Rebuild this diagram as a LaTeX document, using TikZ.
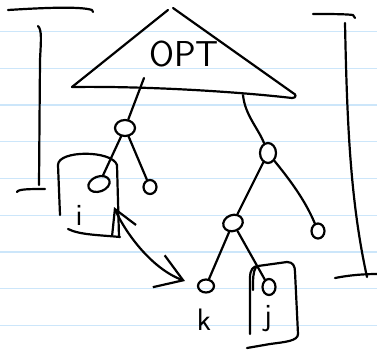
\documentclass[tikz,border=0pt]{standalone}
\usepackage{fontspec}
\usetikzlibrary{shapes.geometric,arrows.meta}
\tikzset{
  rule/.style={draw={rgb,255:red,204;green,230;blue,250},line width=1.3pt},
  ink/.style={draw=black,line width=2.2pt,line cap=round,line join=round},
  nd/.style={ellipse,ink,inner sep=0pt},
  lbl/.style={inner sep=0pt,font=\sffamily\fontsize{31}{31}\selectfont},
}
\begin{document}
\begin{tikzpicture}[x=1pt,y=-1pt]
\fill[white] (0,0) rectangle (377,351);
\useasboundingbox (0,0) rectangle (377,351);

% ruled paper
\foreach \yy in {31.7,68.4,105.1,141.8,178.5,215.2,251.9,288.6,325.3}
  \draw[rule] (0,\yy) -- (377,\yy);

% left bracket
\draw[ink] (8,10) .. controls (40,8) and (80,6) .. (92,10) -- (93,12);
\draw[ink] (38,26) .. controls (42,30) and (41,40) .. (40,60) -- (39,185);
\draw[ink] (17,192) .. controls (18,189) and (30,189) .. (45,189);

% right bracket
\draw[ink] (313,14) .. controls (330,14) and (345,14) .. (353,15) -- (355,18);
\draw[ink] (345,23) .. controls (347,120) and (350,200) .. (367,277);
\draw[ink] (335,278) .. controls (350,275) and (365,274) .. (377,274);

% the OPT triangle
\draw[ink] (72,87) -- (168,10);
\draw[ink] (173,8) -- (293,93);
\draw[ink] (72,87) .. controls (150,86) and (240,92) .. (292,98)
  .. controls (297,98) and (296,94) .. (293,93);
\node[lbl,font=\sffamily\fontsize{36}{36}\selectfont] (opt) at (184,54) {OPT};
\coordinate (t1) at (144,78);
\coordinate (t2) at (243,95);

% tree nodes
\node[nd,minimum width=20pt,minimum height=16pt] (n1) at (125,128) {};
\node[nd,minimum width=16pt,minimum height=20pt] (n2) at (268,153) {};
\node[nd,minimum width=22pt,minimum height=15pt,rotate=20] (a) at (99,184) {};
\node[nd,minimum width=13pt,minimum height=14pt] (b) at (150,187) {};
\node[nd,minimum width=20pt,minimum height=16pt,rotate=20] (c) at (233,223) {};
\node[nd,minimum width=13pt,minimum height=15pt] (d) at (318,231) {};
\node[nd,minimum width=16pt,minimum height=13pt] (e) at (206,286) {};
\node[nd,minimum width=13pt,minimum height=16pt] (f) at (269,287) {};

% tree edges
\draw[ink] (t1) -- (n1);
\draw[ink] (t2) .. controls (245,115) and (258,128) .. (n2);
\draw[ink] (n1) -- (a);
\draw[ink] (n1) -- (b);
\draw[ink] (n2) -- (c);
\draw[ink] (n2) .. controls (290,180) and (305,200) .. (d);
\draw[ink] (c) -- (e);
\draw[ink] (c) -- (f);

% box around i
\draw[ink] (60,215) -- (58,165) .. controls (58,150) and (112,150) .. (117,165) -- (119,237);
\draw[ink] (68,229) .. controls (80,235) and (100,235) .. (120,237);
\node[lbl,anchor=base] (li) at (79,225) {i};

% box around j
\draw[ink] (250,334) -- (250,278) .. controls (250,270) and (253,266) .. (258,266)
  -- (287,262) .. controls (293,262) and (295,266) .. (295,272) -- (298,334)
  .. controls (298,341) and (285,342) .. (270,344) -- (247,348);
\draw[ink] (256,267) .. controls (253,272) and (253,278) .. (253,290);
\node[lbl] (lj) at (268,319) {j};

% label k
\node[lbl,anchor=base] (lk) at (204,330) {k};

% double-headed arrow between the i box and k
\coordinate (arrA) at (114,207);
\coordinate (arrB) at (185,281);
\draw[ink,{Straight Barb[length=23pt,width=26pt]}-{Straight Barb[length=26pt,width=34pt]}]
  (arrA) .. controls (124,230) and (150,268) .. (arrB);
\end{tikzpicture}
\end{document}
